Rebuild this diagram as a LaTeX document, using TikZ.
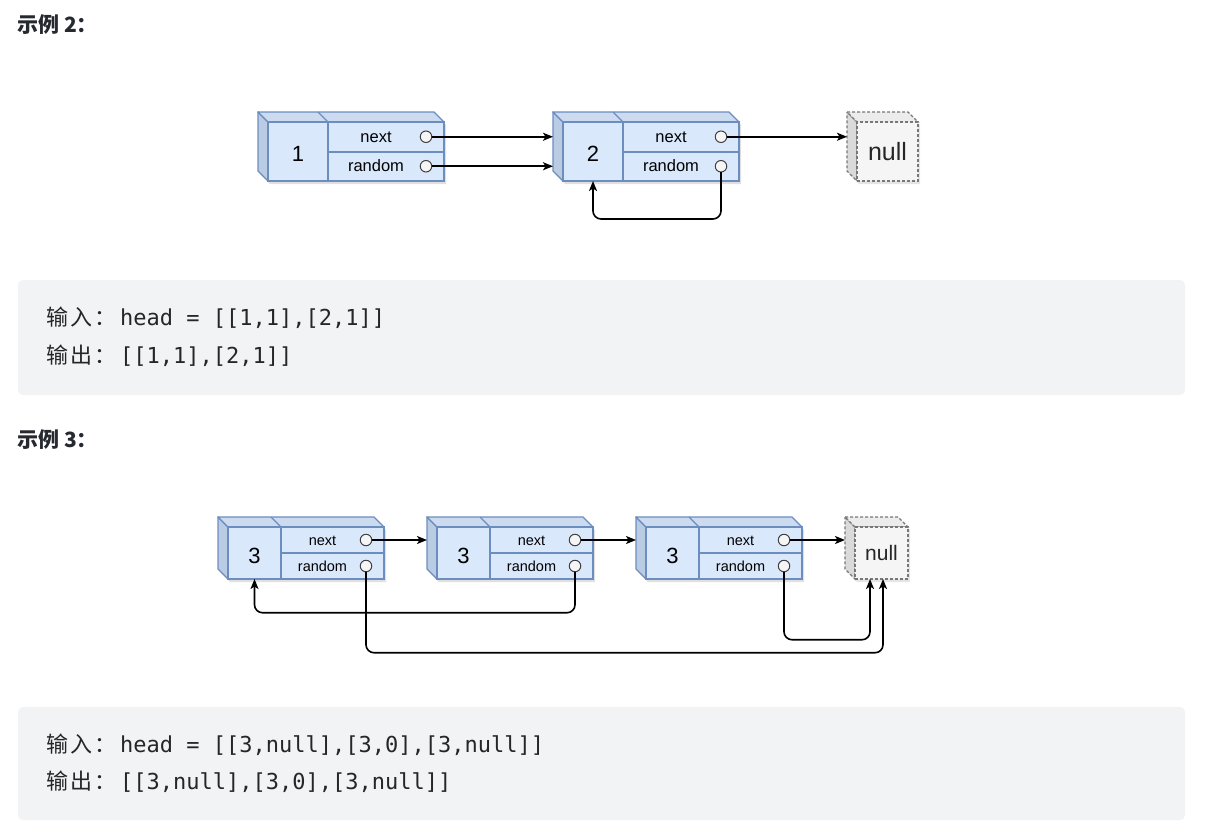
\documentclass[tikz,border=0pt]{standalone}
\usepackage{fontspec}
\setmainfont{Liberation Sans}
\newfontfamily\cjk{Noto Sans CJK SC}
\newfontfamily\codefont{DejaVu Sans Mono}
\usetikzlibrary{arrows.meta}
\definecolor{nfront}{HTML}{DAE8FC}
\definecolor{ntop}{HTML}{CDDBF1}
\definecolor{nside}{HTML}{BACBE4}
\definecolor{nstroke}{HTML}{6C8EBF}
\definecolor{gfront}{HTML}{F5F5F5}
\definecolor{gtop}{HTML}{ECECEC}
\definecolor{gside}{HTML}{DADADA}
\definecolor{gstroke}{HTML}{777777}
\definecolor{codebg}{HTML}{F2F3F5}
\definecolor{headc}{HTML}{262A30}
\definecolor{codec}{HTML}{262626}
\def\dep{10}
\tikzset{
  nodeline/.style={draw=nstroke, line width=1.4pt, line join=round},
  nullline/.style={draw=gstroke, line width=1.2pt, dashed, dash pattern=on 3pt off 2pt},
  frontbox/.style={rectangle, draw=nstroke, fill=nfront, line width=1.4pt, inner sep=0pt, outer sep=0pt},
  nullbox/.style={rectangle, nullline, fill=gfront, inner sep=0pt, outer sep=0pt, text=black!85},
  ptr/.style={circle, draw=black!75, fill=gfront, line width=1pt, minimum size=11.5pt, inner sep=0pt, outer sep=0pt},
  fieldtext/.style={inner sep=0pt, text height=0.72em, text depth=0.2em, font=\fontsize{16.5}{19}\selectfont},
  valtext/.style={inner sep=0pt, font=\fontsize{22}{26}\selectfont},
  arr/.style={draw=black, line width=1.6pt, rounded corners=8pt, -{Stealth[length=10pt,width=8pt,inset=2.5pt]}},
  heading/.style={inner sep=0pt, anchor=west, text=headc, font=\cjk\bfseries\fontsize{21}{25}\selectfont},
  code/.style={inner sep=0pt, anchor=west, text=codec, font=\codefont\fontsize{22}{26}\selectfont},
}
\newcommand\llnode[7]{%
  \fill[black,opacity=.12] (#2-\dep+2,#3-\dep+3) -- (#2+#4-\dep+2,#3-\dep+3) -- (#2+#4+2,#3+3) -- (#2+#4+2,#3+#5+3) -- (#2+2,#3+#5+3) -- (#2-\dep+2,#3+#5-\dep+3) -- cycle;
  \draw[nodeline,fill=nside] (#2-\dep,#3-\dep) -- (#2,#3) -- (#2,#3+#5) -- (#2-\dep,#3+#5-\dep) -- cycle;
  \draw[nodeline,fill=ntop] (#2-\dep,#3-\dep) -- (#2+#4-\dep,#3-\dep) -- (#2+#4,#3) -- (#2,#3) -- cycle;
  \draw[nodeline] (#2+#6-\dep,#3-\dep) -- (#2+#6,#3);
  \node[frontbox, minimum width=#4pt, minimum height=#5pt, anchor=north west] (#1) at (#2,#3) {};
  \coordinate (#1in) at (#2-\dep,#3);
  \draw[nodeline] (#2+#6,#3) -- (#2+#6,#3+#5);
  \draw[nodeline, line width=2pt] (#2+#6,#3+#5/2) -- (#2+#4,#3+#5/2);
  \node[valtext] (#1v) at (#2+#6/2,#3+#5/2+2.5) {#7};
  \node[ptr] (#1nc) at (#2+#4-18,#3+#5/4) {};
  \node[ptr] (#1rc) at (#2+#4-18,#3+3*#5/4) {};
  \node[fieldtext] (#1n) at ({#2+#6/2+#4/2-10},#3+#5/4+3) {next};
  \node[fieldtext] (#1r) at ({#2+#6/2+#4/2-10},#3+3*#5/4+3) {random};
}
\newcommand\nullnode[6]{%
  \fill[black,opacity=.10] (#2-\dep+2,#3-\dep+3) -- (#2+#4-\dep+2,#3-\dep+3) -- (#2+#4+2,#3+3) -- (#2+#4+2,#3+#5+3) -- (#2+2,#3+#5+3) -- (#2-\dep+2,#3+#5-\dep+3) -- cycle;
  \draw[nullline,fill=gside] (#2-\dep,#3-\dep) -- (#2,#3) -- (#2,#3+#5) -- (#2-\dep,#3+#5-\dep) -- cycle;
  \draw[nullline,fill=gtop] (#2-\dep,#3-\dep) -- (#2+#4-\dep,#3-\dep) -- (#2+#4,#3) -- (#2,#3) -- cycle;
  \node[nullbox, minimum width=#4pt, minimum height=#5pt, anchor=north west, font=\fontsize{#6}{#6}\selectfont] (#1) at (#2,#3) {null};
  \coordinate (#1in) at (#2-\dep,#3);
}
\begin{document}
\begin{tikzpicture}[x=1pt,y=-1pt]
\useasboundingbox (0,0) rectangle (1214,833);
\fill[white] (0,0) rectangle (1214,833);

% ---------- Example 2 ----------
\node[heading] (h2) at (17,25) {示例 2：};
\llnode{a}{268}{122}{176}{59}{60}{1}
\llnode{b}{563}{122}{176}{59}{60}{2}
\nullnode{n1}{857}{122}{61}{59}{25}
\draw[arr] (anc.east) -- (anc -| bin);
\draw[arr] (arc.east) -- (arc -| bin);
\draw[arr] (bnc.east) -- (bnc -| n1in);
\draw[arr] (brc.south) -- ++(0,47) -| (bv |- b.south);

\fill[codebg, rounded corners=5pt] (18,280) rectangle (1185,395);
\node[code] (in2) at (46,318) {{\cjk 输\kern2pt 入\kern2pt ：}\kern4pt head = [[1,1],[2,1]]};
\node[code] (out2) at (46,356) {{\cjk 输\kern2pt 出\kern2pt ：}\kern4pt [[1,1],[2,1]]};

% ---------- Example 3 ----------
\node[heading] (h3) at (17,440) {示例 3：};
\begin{scope}[fieldtext/.append style={font=\fontsize{14.5}{17}\selectfont}]
\llnode{p}{228}{527}{156}{52}{53}{3}
\llnode{q}{437}{527}{156}{52}{53}{3}
\llnode{r}{646}{527}{156}{52}{53}{3}
\end{scope}
\nullnode{n2}{855}{527}{53}{52}{21}
\coordinate (n2t1) at (870,579);
\coordinate (n2t2) at (883,579);
\draw[arr] (pnc.east) -- (pnc -| qin);
\draw[arr] (qnc.east) -- (qnc -| rin);
\draw[arr] (rnc.east) -- (rnc -| n2in);
\draw[arr] (qrc.south) -- ++(0,41) -| (pv |- p.south);
\draw[arr] (prc.south) -- ++(0,81) -| (n2t2);
\draw[arr] (rrc.south) -- ++(0,68) -| (n2t1);

\fill[codebg, rounded corners=5pt] (18,707) rectangle (1185,820);
\node[code] (in3) at (46,745) {{\cjk 输\kern2pt 入\kern2pt ：}\kern4pt head = [[3,null],[3,0],[3,null]]};
\node[code] (out3) at (46,782) {{\cjk 输\kern2pt 出\kern2pt ：}\kern4pt [[3,null],[3,0],[3,null]]};
\end{tikzpicture}
\end{document}
